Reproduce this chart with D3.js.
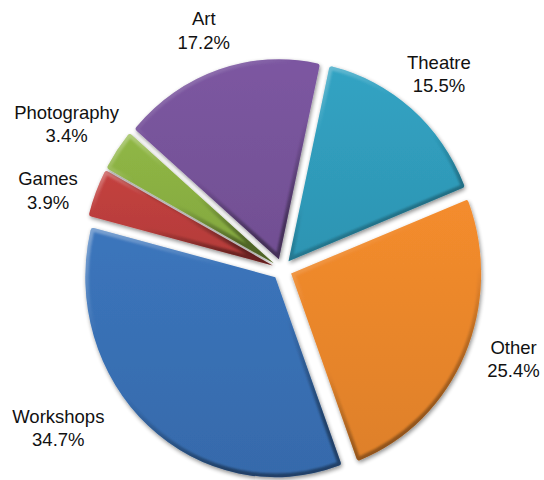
<!DOCTYPE html>
<html>
<head>
<meta charset="utf-8">
<script src="https://cdn.jsdelivr.net/npm/d3@7"></script>
<style>
  html, body { margin: 0; padding: 0; background: #ffffff; }
  svg { display: block; }
</style>
</head>
<body>
<svg id="chart" width="544" height="480"></svg>
<script>
// Share of activities, in slice order (clockwise from the first slice)
const categories = ["Theatre", "Other", "Workshops", "Games", "Photography", "Art"];
const shares = [15.5, 25.4, 34.7, 3.9, 3.4, 17.2];
const sliceColors = ["#31a0c0", "#f08a2c", "#3a73b9", "#c1403e", "#8db444", "#7a559e"];

const data = categories.map((c, i) => ({ name: c, value: shares[i], color: sliceColors[i] }));

// Layout
const W = 544, H = 480;
const cx = 282, cy = 269.3;
const R = 190;
const yScale = 1.053;          // slight vertical stretch of the pie
const explode = 10;            // distance each slice is pulled out
const startDeg = 12.5;
const labelGap = 215;
const fontSize = 18.5;
const lineH = 23.5;
const labelNudge = {
  Art: [-2, -2], Theatre: [-3, -5], Photography: [5, -4],
  Games: [-6, 12], Other: [11, -12], Workshops: [-49, -27]
};

const svg = d3.select("#chart");
const defs = svg.append("defs");

// Soft drop shadow under each slice
const shadow = defs.append("filter").attr("id", "shadow")
  .attr("x", "-20%").attr("y", "-20%").attr("width", "140%").attr("height", "140%");
shadow.append("feGaussianBlur").attr("in", "SourceAlpha").attr("stdDeviation", 2.2).attr("result", "b");
shadow.append("feOffset").attr("in", "b").attr("dx", 1).attr("dy", 2).attr("result", "o");
shadow.append("feComponentTransfer").attr("in", "o").attr("result", "s")
  .append("feFuncA").attr("type", "linear").attr("slope", 0.45);
const merge = shadow.append("feMerge");
merge.append("feMergeNode").attr("in", "s");
merge.append("feMergeNode").attr("in", "SourceGraphic");

// Blur used to soften the bevel strokes
defs.append("filter").attr("id", "soft")
  .append("feGaussianBlur").attr("stdDeviation", 0.9);

// Bevel: light along the upper edges, dark along the lower ones
const bevel = defs.append("linearGradient").attr("id", "bevel")
  .attr("x1", 0).attr("y1", 0).attr("x2", 0.5).attr("y2", 1);
[[0, "#ffffff", 0.35], [0.35, "#ffffff", 0.0], [0.6, "#000000", 0.0], [1, "#000000", 0.4]]
  .forEach(([o, c, a]) => bevel.append("stop").attr("offset", o).attr("stop-color", c).attr("stop-opacity", a));

// Vertical shading for each slice body
data.forEach((d, i) => {
  const g = defs.append("linearGradient").attr("id", "fill" + i)
    .attr("x1", 0).attr("y1", 0).attr("x2", 0).attr("y2", 1);
  g.append("stop").attr("offset", 0).attr("stop-color", d3.color(d.color).brighter(0.05));
  g.append("stop").attr("offset", 1).attr("stop-color", d3.color(d.color).darker(0.22));
});

const start = startDeg * Math.PI / 180;
const pie = d3.pie().sort(null).value(d => d.value)
  .startAngle(start).endAngle(start + 2 * Math.PI);
const arc = d3.arc().innerRadius(0).outerRadius(R).cornerRadius(2.5);
const arcs = pie(data);

const pieG = svg.append("g").attr("transform", `translate(${cx},${cy}) scale(1,${yScale})`);

const slices = pieG.selectAll("g.slice").data(arcs).join("g")
  .attr("class", "slice")
  .attr("transform", a => {
    const m = (a.startAngle + a.endAngle) / 2;
    return `translate(${explode * Math.sin(m)},${-explode * Math.cos(m)})`;
  })
  .attr("filter", "url(#shadow)");

slices.each(function (a, i) {
  const g = d3.select(this);
  const d = arc(a);
  defs.append("clipPath").attr("id", "clip" + i).append("path").attr("d", d);
  g.append("path").attr("d", d).attr("fill", `url(#fill${i})`);
  g.append("g").attr("clip-path", `url(#clip${i})`)
    .append("path").attr("d", d)
    .attr("fill", "none")
    .attr("stroke", "url(#bevel)")
    .attr("stroke-width", 7)
    .attr("stroke-linejoin", "round")
    .attr("filter", "url(#soft)");
});

// Data labels: category name and percentage, outside each slice
const labels = svg.append("g")
  .attr("font-family", "'Liberation Sans', Arial, sans-serif")
  .attr("font-size", fontSize)
  .attr("fill", "#111")
  .attr("text-anchor", "middle");

arcs.forEach(a => {
  const m = (a.startAngle + a.endAngle) / 2;
  const ux = Math.sin(m), uy = -Math.cos(m);
  const t = labels.append("text");
  const l1 = t.append("tspan").text(a.data.name);
  const l2 = t.append("tspan").text(a.data.value.toFixed(1) + "%");
  const w = Math.max(l1.node().getComputedTextLength(), l2.node().getComputedTextLength());
  const h = lineH * 2;
  const nudge = labelNudge[a.data.name] || [0, 0];
  const x = cx + labelGap * ux + ux * w / 2 + nudge[0];
  const y = cy + labelGap * uy * yScale + uy * h / 2 + nudge[1];
  const base = fontSize * 0.36;
  l1.attr("x", x).attr("y", y - lineH / 2 + base);
  l2.attr("x", x).attr("y", y + lineH / 2 + base);
});
</script>
</body>
</html>
